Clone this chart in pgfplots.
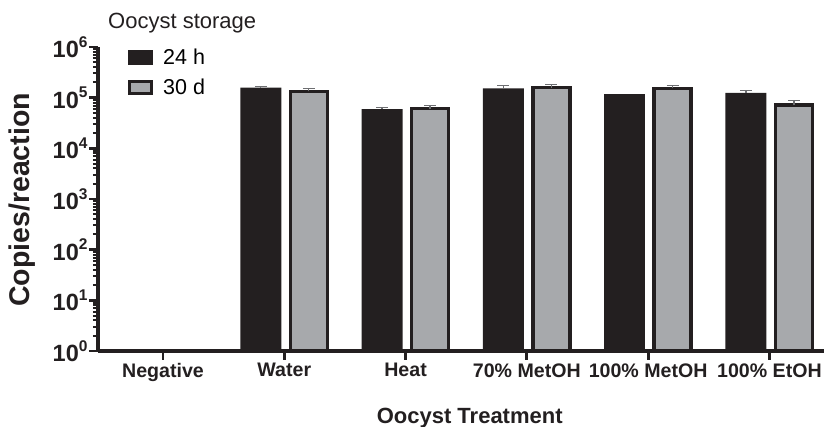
\documentclass[border=0pt]{standalone}
\usepackage{pgfplots}
\pgfplotsset{compat=1.18}
\usepackage{pgfplotstable}
\usepackage{fontspec}
\setmainfont{Liberation Sans}
\definecolor{barblack}{HTML}{231F20}
\definecolor{bargray}{HTML}{A7A9AC}
\definecolor{errgray}{HTML}{6D6E71}
\newcommand{\dec}[1]{\fontsize{23.5bp}{23.5bp}\selectfont\bfseries 10\raisebox{0.45em}{\fontsize{15.5bp}{15.5bp}\selectfont\bfseries #1}}

\pgfplotstableread{
x y e
1 157000 7000
2 59300 5600
3 153000 19000
5 124000 13000
}\hours

\pgfplotstableread{
x y
4 118000
}\hoursnoerr

\pgfplotstableread{
x y e
1 133000 20000
2 60800 10000
3 157000 26000
4 152000 20000
5 71900 15000
}\days

\begin{document}
\begin{tikzpicture}
\begin{axis}[
  name=ax,
  scale only axis, width=726bp, height=304bp,
  ymode=log, ymin=1, ymax=1e6,
  xmin=-0.536, xmax=5.45,
  clip=false,
  axis x line*=bottom, axis y line*=left,
  axis line style={line width=3.5bp, color=barblack, -},
  xtick={0,1,2,3,4,5},
  xticklabels={Negative,Water,Heat,70\% MetOH,100\% MetOH,100\% EtOH},
  xticklabel style={font=\fontsize{19.6bp}{22bp}\selectfont\bfseries, text=barblack},
  ytick={1,10,100,1000,10000,100000,1000000},
  yticklabels={\dec{0},\dec{1},\dec{2},\dec{3},\dec{4},\dec{5},\dec{6}},
  yticklabel style={text=barblack, xshift=2bp},
  tick align=outside,
  major tick length=9bp, minor tick length=5bp,
  every major tick/.append style={line width=2.8bp, color=barblack},
  every minor tick/.append style={line width=2bp, color=barblack},
  xlabel={Oocyst Treatment},
  xlabel style={font=\fontsize{22bp}{24bp}\selectfont\bfseries, text=barblack, at={(axis description cs:0.512,0)}, anchor=base, yshift=-72bp},
  ylabel={Copies/reaction},
  ylabel style={font=\fontsize{28.5bp}{30bp}\selectfont\bfseries, text=barblack, at={(axis description cs:-0.1047,0.497)}, anchor=center},
  legend style={draw=none, fill=none, at={(axis description cs:0.0413,1.0)}, anchor=north west, inner xsep=0pt, inner ysep=0pt, font=\fontsize{21.5bp}{23bp}\selectfont, row sep=9bp, column sep=8bp},
  legend cell align=left,
]
\addplot[ybar, bar width=41bp, bar shift=0pt, fill=barblack, draw=none,
  legend image code/.code={\fill[barblack] (0bp,-7.5bp) rectangle (25bp,7.5bp);},
  error bars/.cd, y dir=plus, y explicit,
  error bar style={line width=1.3bp, color=errgray},
  error mark options={rotate=90, mark size=6bp, line width=1.3bp, color=errgray}]
  table[x expr=\thisrow{x}-0.1937, y=y, y error plus=e]{\hours};
\addlegendentry{24 h}
\addplot[ybar, bar width=41bp, bar shift=0pt, fill=barblack, draw=none, forget plot]
  table[x expr=\thisrow{x}-0.1937, y=y]{\hoursnoerr};
\addplot[ybar, bar width=37bp, bar shift=0pt, fill=bargray, draw=barblack, line width=3.5bp,
  legend image code/.code={\draw[fill=bargray, draw=barblack, line width=3bp] (1.5bp,-6bp) rectangle (23.5bp,6bp);},
  error bars/.cd, y dir=plus, y explicit,
  error bar style={line width=1.3bp, color=errgray},
  error mark options={rotate=90, mark size=6bp, line width=1.3bp, color=errgray}]
  table[x expr=\thisrow{x}+0.202, y=y, y error plus=e]{\days};
\addlegendentry{30 d}
\node[anchor=base west, font=\fontsize{22bp}{24bp}\selectfont, text=barblack, inner sep=0pt, yshift=18bp] at (rel axis cs:0.0138,1) {Oocyst storage};
\end{axis}
\pgfresetboundingbox
\path[use as bounding box] (ax.south west) ++(-98bp,-76bp) rectangle ++(824bp,427bp);
\end{tikzpicture}
\end{document}
